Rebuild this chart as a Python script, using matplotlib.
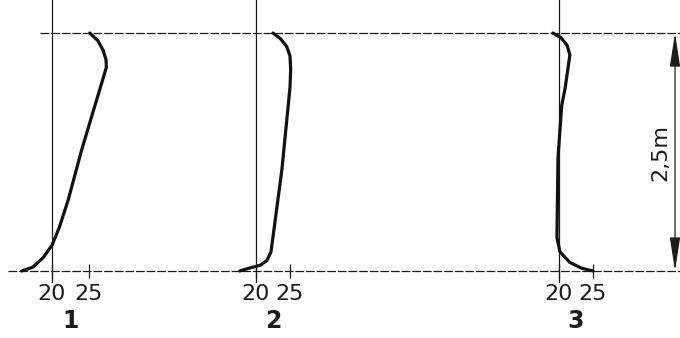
import matplotlib
matplotlib.use("Agg")
import matplotlib.pyplot as plt

# temperature (deg C) vs height above floor (m) for the three cases
temp_1 = [25.1, 26.2, 26.9, 27.3, 27.35, 24.0, 22.2, 21.0, 20.0, 18.8, 17.4, 15.9]
hgt_1 = [2.5, 2.42, 2.32, 2.22, 2.14, 1.27, 0.75, 0.46, 0.27, 0.14, 0.04, 0.0]

temp_2 = [22.5, 23.6, 24.5, 25.0, 25.1, 25.0, 23.8, 22.5, 22.2, 21.6, 20.6, 19.0, 17.6]
hgt_2 = [2.5, 2.44, 2.36, 2.26, 2.12, 1.93, 1.06, 0.36, 0.2, 0.11, 0.06, 0.03, 0.0]

temp_3 = [19.1, 20.3, 21.2, 21.6, 20.9, 20.4, 19.85, 19.7, 20.15, 21.6, 23.3, 25.0]
hgt_3 = [2.5, 2.45, 2.37, 2.27, 1.92, 1.74, 1.19, 0.35, 0.2, 0.09, 0.03, 0.0]

panel_names = ["1", "2", "3"]
tick_vals = [20, 25]
room_height = 2.5

W, H = 680, 338
fig = plt.figure(figsize=(W / 100, H / 100), dpi=100)
fig.patch.set_facecolor("white")

ink = "#1c1c1c"
ylo, yhi = -0.126, 2.847
ax_b = (H - 283) / H
ax_h = 283 / H

# background axes for the floor / ceiling lines and the height arrow
bg = fig.add_axes([0, ax_b, 1, ax_h])
bg.set_xlim(0, W)
bg.set_ylim(ylo, yhi)
bg.axis("off")
bg.hlines(0, 8, W, color=ink, lw=0.9, linestyles=(0, (7, 1.5)))
bg.hlines(room_height, 40, W, color=ink, lw=0.9, linestyles=(0, (7, 1.5)))
bg.annotate("", xy=(675, room_height), xytext=(675, 0),
            arrowprops=dict(arrowstyle="<|-|>,head_length=2.6,head_width=0.4",
                            mutation_scale=8, color=ink, lw=0.9,
                            shrinkA=0, shrinkB=0))
bg.text(660, 1.24, "2,5m", rotation=90, ha="center", va="center",
        fontsize=16, color=ink, family="DejaVu Sans")

# pixel x of the 20 deg line and pixels per degree, per panel
x20 = [52, 256, 559]
scale = [7.4, 6.8, 6.8]
t0, t1 = 14, 30

curves = [(temp_1, hgt_1), (temp_2, hgt_2), (temp_3, hgt_3)]
for i, (tt, hh) in enumerate(curves):
    left = x20[i] - (20 - t0) * scale[i]
    width = (t1 - t0) * scale[i]
    ax = fig.add_axes([left / W, ax_b, width / W, ax_h])
    ax.patch.set_alpha(0)
    ax.set_xlim(t0, t1)
    ax.set_ylim(ylo, yhi)
    for s in ax.spines.values():
        s.set_visible(False)
    ax.spines["bottom"].set_position(("data", 0))
    ax.axvline(20, color=ink, lw=0.9)
    ax.plot(tt, hh, color="#111111", lw=2.3, solid_capstyle="round",
            solid_joinstyle="round")
    ax.set_xticks(tick_vals)
    ax.set_xticklabels([str(v) for v in tick_vals])
    ax.tick_params(axis="x", direction="inout", length=10, width=0.9,
                   color=ink, pad=4, labelsize=16, labelcolor=ink)
    ax.set_yticks([])
    ax.text(22.5, -0.52, panel_names[i], ha="center", va="center",
            fontsize=17, fontweight="bold", color=ink)

fig.savefig("out.png", dpi=100, facecolor="white")
